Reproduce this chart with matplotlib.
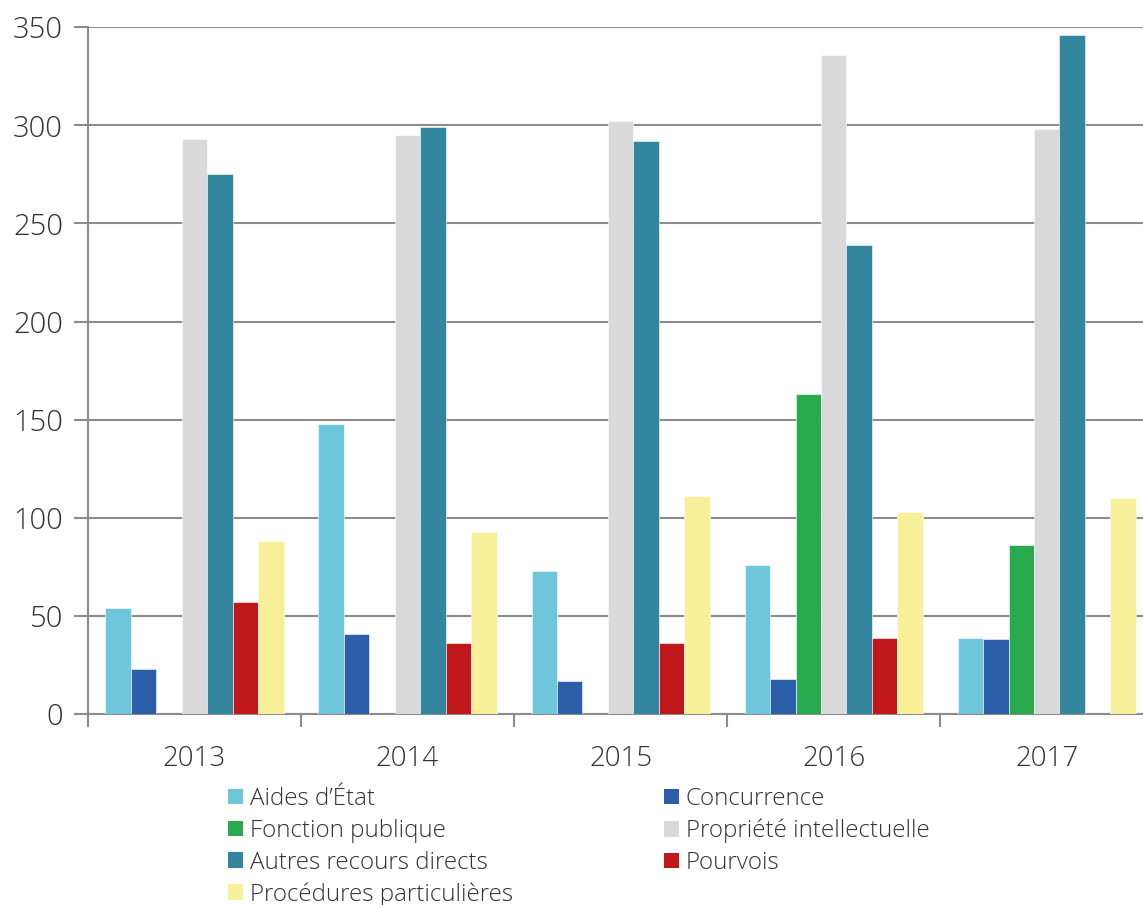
import matplotlib
matplotlib.use("Agg")
import matplotlib.pyplot as plt
from matplotlib.patches import Patch
import numpy as np

plt.rcParams['font.family'] = ['Open Sans', 'DejaVu Sans']
plt.rcParams['font.weight'] = 'light'

years = ["2013", "2014", "2015", "2016", "2017"]
aides_etat = [54, 148, 73, 76, 39]
concurrence = [23, 41, 17, 18, 38]
fonction_publique = [0, 0, 0, 163, 86]
propriete_intellectuelle = [293, 295, 302, 336, 298]
autres_recours = [275, 299, 292, 239, 346]
pourvois = [57, 36, 36, 39, 0]
procedures = [88, 93, 111, 103, 110]

series = [
    ("Aides d\u2019\u00c9tat", aides_etat, "#6EC6DA"),
    ("Concurrence", concurrence, "#2B5DA8"),
    ("Fonction publique", fonction_publique, "#2AAA4F"),
    ("Propri\u00e9t\u00e9 intellectuelle", propriete_intellectuelle, "#D9D9D9"),
    ("Autres recours directs", autres_recours, "#34869E"),
    ("Pourvois", pourvois, "#C0181A"),
    ("Proc\u00e9dures particuli\u00e8res", procedures, "#F7F098"),
]

fig = plt.figure(figsize=(11.43, 9.05), dpi=100)
ax = fig.add_axes([0.077, 0.211, 0.932, 0.759])

x = np.arange(len(years))
w = 0.1195
for j, (name, vals, col) in enumerate(series):
    ax.bar(x + (j - 3) * w, vals, width=w, color=col, edgecolor='white', linewidth=0.4, zorder=3)

ax.set_xlim(-0.5, len(years) - 0.5)
ax.set_ylim(0, 350)
ax.set_yticks(range(0, 351, 50))
ax.yaxis.grid(True, color='#8c8c8c', linewidth=1.5, zorder=0)
ax.set_axisbelow(True)
ax.tick_params(axis='y', length=10, width=1.5, color='#8c8c8c', labelsize=21, pad=8, labelcolor='#333333')
ax.set_xticks(x)
ax.set_xticklabels(years)
ax.tick_params(axis='x', length=0, labelsize=20, pad=22, labelcolor='#333333')
ax.set_xticks(np.arange(-0.5, len(years), 1.0), minor=True)
ax.tick_params(axis='x', which='minor', length=9, width=1.5, color='#8c8c8c')
for s in ['top', 'right']:
    ax.spines[s].set_visible(False)
for s in ['left', 'bottom']:
    ax.spines[s].set_color('#8c8c8c')
    ax.spines[s].set_linewidth(1.5)

order = [0, 2, 4, 6, 1, 3, 5]
handles = [Patch(facecolor=series[i][2], label=series[i][0]) for i in order]
leg = fig.legend(handles=handles, ncol=2, loc='upper left', bbox_to_anchor=(0.189, 0.1436),
                 frameon=False, fontsize=17.4, handlelength=0.62, handleheight=0.62,
                 handletextpad=0.29, labelspacing=0.32, columnspacing=6.22, borderpad=0)
for t in leg.get_texts():
    t.set_color('#333333')

fig.savefig("out.png", dpi=100)
